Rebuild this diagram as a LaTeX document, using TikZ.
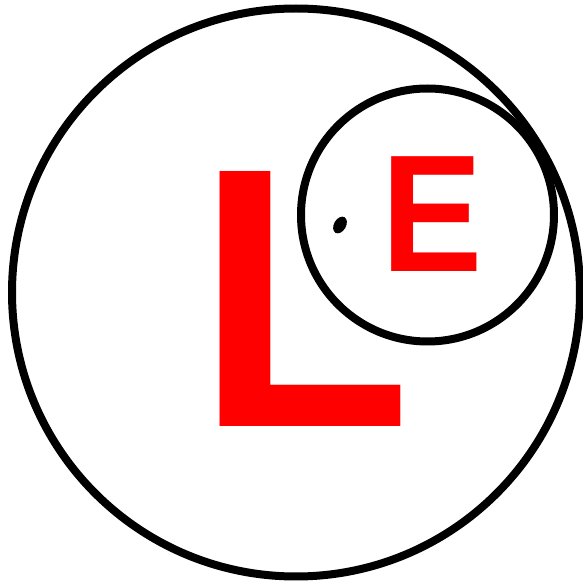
\documentclass[tikz,border=0pt]{standalone}
\usepackage{fontspec}
\setmainfont{Liberation Sans}
\definecolor{LERed}{HTML}{FF0000}
\definecolor{LEInk}{HTML}{000000}

\begin{document}
\begin{tikzpicture}[x=0.02cm,y=-0.02cm]
\path[use as bounding box] (0,0) rectangle (583,581);
\fill[white] (0,0) rectangle (583,581);
\draw[LEInk,line width=0.16cm] (296,292.5) circle (284);
\draw[LEInk,line width=0.16cm] (427.5,215) circle (126.5);
\node[LERed,anchor=base west,inner sep=0pt,xscale=0.95,transform shape,font=\bfseries\fontsize{211pt}{211pt}\selectfont] (bigL) at (196,427) {L};
\node[LERed,anchor=base west,inner sep=0pt,xscale=0.91,transform shape,font=\bfseries\fontsize{95pt}{95pt}\selectfont] (smallE) at (381,272) {E};
\fill[LEInk,rotate around={-30:(340,225)}] (340,225) ellipse (6 and 9);
\end{tikzpicture}
\end{document}
